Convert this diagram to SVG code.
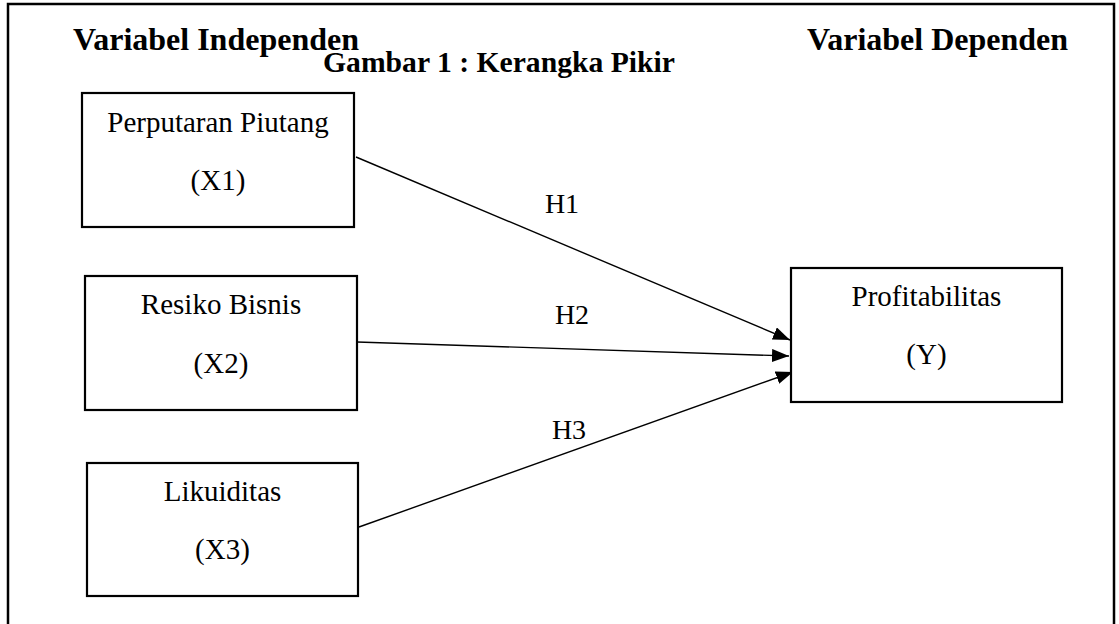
<svg xmlns="http://www.w3.org/2000/svg" width="1119" height="624" viewBox="0 0 1119 624">
  <style>
    .frame { fill: none; stroke: #000; stroke-width: 2.5; }
    .box { fill: #fff; stroke: #000; stroke-width: 2.2; }
    .lbl { font-family: "Liberation Serif", "Times New Roman", serif; font-size: 29px; fill: #000; text-anchor: middle; }
    .hyp { font-family: "Liberation Serif", "Times New Roman", serif; font-size: 28px; fill: #000; text-anchor: middle; }
    .head { font-family: "Liberation Serif", "Times New Roman", serif; font-size: 32px; font-weight: bold; fill: #000; }
    .title { font-family: "Liberation Serif", "Times New Roman", serif; font-size: 30px; font-weight: bold; fill: #000; }
    .conn { stroke: #000; stroke-width: 1.4; fill: none; marker-end: url(#arrow); }
  </style>
  <defs>
    <marker id="arrow" markerUnits="userSpaceOnUse" markerWidth="18" markerHeight="14" refX="17" refY="6.5" orient="auto">
      <path d="M0,0 L17,6.5 L0,13 z" fill="#000"/>
    </marker>
  </defs>
  <rect width="1119" height="624" fill="#fff"/>
  <rect class="frame" x="8" y="4" width="1106" height="640"/>

  <text class="head" x="73" y="50">Variabel Independen</text>
  <text class="head" x="807" y="50">Variabel Dependen</text>
  <text class="title" x="323" y="72" textLength="352" lengthAdjust="spacingAndGlyphs">Gambar 1 : Kerangka Pikir</text>

  <g id="connectors">
    <line class="conn" x1="356" y1="157" x2="790" y2="340"/>
    <line class="conn" x1="357" y1="342" x2="789" y2="356"/>
    <line class="conn" x1="359" y1="527" x2="793" y2="372"/>
    <text class="hyp" x="562" y="213">H1</text>
    <text class="hyp" x="572" y="324">H2</text>
    <text class="hyp" x="569" y="439">H3</text>
  </g>

  <g id="x1">
    <rect class="box" x="82" y="93" width="272" height="134"/>
    <text class="lbl" x="218" y="132">Perputaran Piutang</text>
    <text class="lbl" x="218" y="190">(X1)</text>
  </g>
  <g id="x2">
    <rect class="box" x="85" y="276" width="272" height="134"/>
    <text class="lbl" x="221" y="314">Resiko Bisnis</text>
    <text class="lbl" x="221" y="373">(X2)</text>
  </g>
  <g id="x3">
    <rect class="box" x="87" y="463" width="271" height="133"/>
    <text class="lbl" x="222.5" y="501">Likuiditas</text>
    <text class="lbl" x="222.5" y="559">(X3)</text>
  </g>
  <g id="y">
    <rect class="box" x="791" y="268" width="271" height="134"/>
    <text class="lbl" x="926.5" y="306">Profitabilitas</text>
    <text class="lbl" x="926.5" y="364">(Y)</text>
  </g>
</svg>
